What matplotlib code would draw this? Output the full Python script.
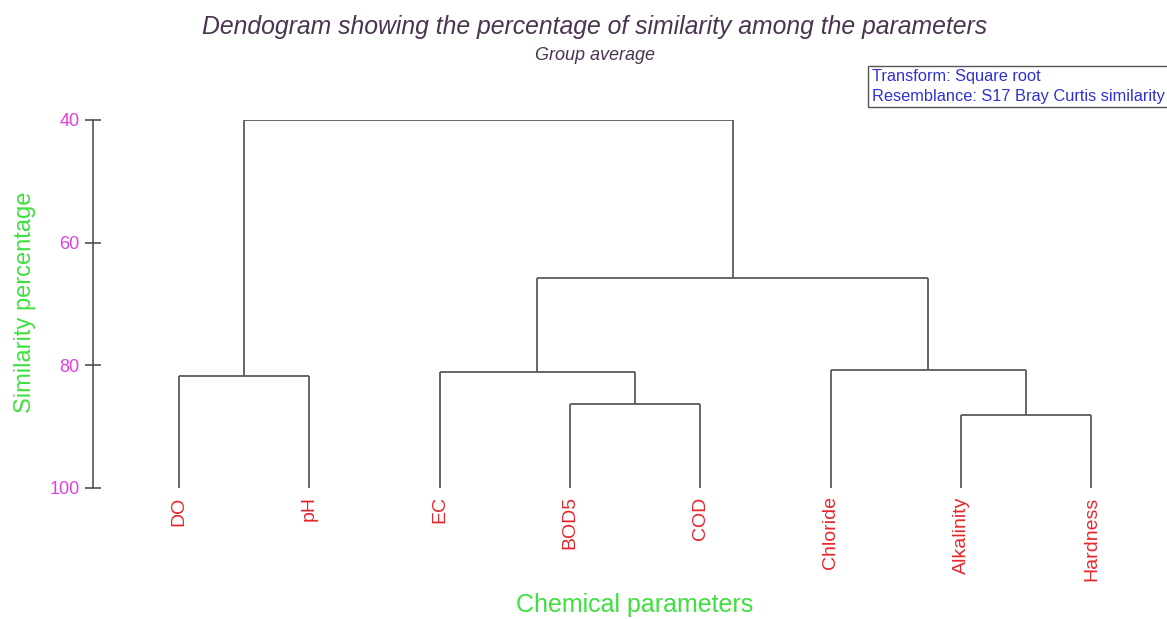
import matplotlib
matplotlib.use("Agg")
import matplotlib.pyplot as plt
from matplotlib.patches import Rectangle

# ---- data ----
leaf_labels = ["DO", "pH", "EC", "BOD5", "COD", "Chloride", "Alkalinity", "Hardness"]
# merges: (child_a, child_b) ; node ids 0..7 are leaves, new nodes numbered from 8
merge_left = [6, 3, 0, 2, 5, 11, 10]
merge_right = [7, 4, 1, 9, 8, 12, 13]
merge_similarity = [88.1, 86.3, 81.7, 81.1, 80.8, 65.8, 40.0]
y_ticks = [40, 60, 80, 100]

plt.rcParams['font.family'] = ['Liberation Sans', 'DejaVu Sans']

W, H = 1167, 619
fig = plt.figure(figsize=(W / 100, H / 100), dpi=100)
ax = fig.add_axes([93 / W, 1 - 488 / H, 1 - 93 / W, (488 - 120) / H])

n = len(leaf_labels)
xpos = {i: float(i) for i in range(n)}
ypos = {i: 100.0 for i in range(n)}
line_kw = dict(color="#5a5a5a", lw=1.3, solid_capstyle="butt")
for k, (a, b, s) in enumerate(zip(merge_left, merge_right, merge_similarity)):
    node = n + k
    ax.plot([xpos[a], xpos[a]], [ypos[a], s], **line_kw)
    ax.plot([xpos[b], xpos[b]], [ypos[b], s], **line_kw)
    ax.plot([xpos[a], xpos[b]], [s, s], **line_kw)
    xpos[node] = (xpos[a] + xpos[b]) / 2
    ypos[node] = s

ax.set_xlim(-0.66, 7.58)
ax.set_ylim(100, 40)

for sp in ["top", "right", "bottom"]:
    ax.spines[sp].set_visible(False)
ax.spines["left"].set_color("#444444")
ax.spines["left"].set_linewidth(1.1)

ax.set_yticks(y_ticks)
ax.set_yticklabels([str(v) for v in y_ticks], color="#e040e0", fontsize=13)
ax.tick_params(axis="y", direction="inout", length=11, width=1.1, color="#444444", pad=4)

ax.set_xticks(range(n))
ax.set_xticklabels(leaf_labels, rotation=90, color="#e8262c", fontsize=14, va="top")
ax.tick_params(axis="x", length=0, pad=6)

fig.text(595 / W, 1 - 27 / H, "Dendogram showing the percentage of similarity among the parameters",
         ha="center", va="center", fontsize=17.8, style="italic", color="#4a3450")
fig.text(595 / W, 1 - 55 / H, "Group average", ha="center", va="center",
         fontsize=13, style="italic", color="#4a3450")

fig.text(25 / W, 1 - 302 / H, "Similarity percentage", rotation=90, ha="center", va="center",
         fontsize=17, color="#3ee03e")
fig.text(635 / W, 1 - 605 / H, "Chemical parameters", ha="center", va="center",
         fontsize=18, color="#3ee03e")

# info box
fig.patches.append(Rectangle((868 / W, 1 - 107 / H), (W + 5 - 868) / W, 41 / H,
                             transform=fig.transFigure, fill=False, edgecolor="#555555", lw=1.0))
fig.text(872 / W, 1 - 76 / H, "Transform: Square root", ha="left", va="center",
         fontsize=11.8, color="#3030d0")
fig.text(872 / W, 1 - 97 / H, "Resemblance: S17 Bray Curtis similarity", ha="left", va="center",
         fontsize=11.8, color="#3030d0")

fig.savefig("out.png", dpi=100)
